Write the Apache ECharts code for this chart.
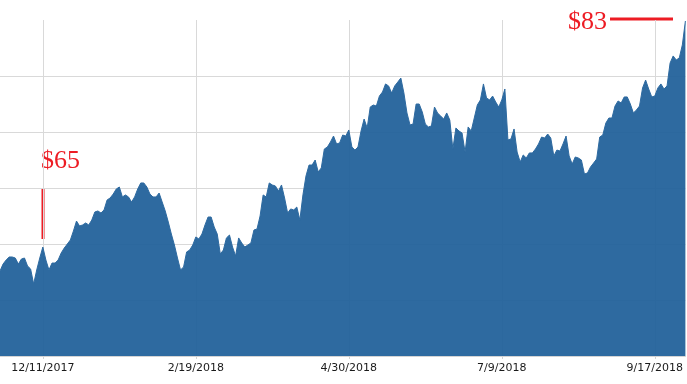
<!DOCTYPE html>
<html>
<head>
<meta charset="utf-8">
<script src="https://cdn.jsdelivr.net/npm/echarts@6/dist/echarts.min.js"></script>
<style>
html,body{margin:0;padding:0;background:#fff;}
#chart{width:687px;height:384px;}
</style>
</head>
<body>
<div id="chart"></div>
<script>
// Trading days from 11/21/2017 to 10/1/2018 (weekdays)
const startDate = [2017, 10, 21];
const dayCount = 225;
const tickDates = ['12/11/2017', '2/19/2018', '4/30/2018', '7/9/2018', '9/17/2018'];

// Closing prices
const prices = [
  62.59, 63.21, 63.57, 63.84, 63.84, 63.75, 63.21, 63.66, 63.75, 63.04,
  62.77, 61.43, 62.68, 63.75, 64.73, 63.57, 62.68, 63.30, 63.30, 63.57,
  64.20, 64.64, 65.00, 65.36, 66.16, 67.05, 66.61, 66.70, 66.88, 66.70,
  67.14, 67.86, 67.95, 67.77, 68.04, 68.93, 69.11, 69.46, 69.91, 70.09,
  69.20, 69.38, 69.20, 68.75, 69.20, 69.91, 70.45, 70.45, 70.09, 69.46,
  69.20, 69.20, 69.55, 68.75, 67.95, 66.96, 65.89, 64.91, 63.75, 62.68,
  62.95, 64.29, 64.46, 64.91, 65.63, 65.45, 65.89, 66.70, 67.41, 67.41,
  66.52, 65.89, 64.11, 64.46, 65.54, 65.80, 64.73, 63.93, 65.54, 65.09,
  64.73, 64.91, 65.09, 66.25, 66.34, 67.50, 69.38, 69.20, 70.45, 70.27,
  70.18, 69.73, 70.27, 69.11, 67.77, 68.13, 68.04, 68.30, 67.14, 69.38,
  71.07, 72.05, 72.05, 72.50, 71.43, 71.79, 73.48, 73.66, 74.11, 74.64,
  73.93, 74.02, 74.73, 74.64, 75.18, 73.66, 73.39, 73.66, 75.09, 76.16,
  75.36, 77.23, 77.41, 77.32, 78.21, 78.57, 79.29, 79.11, 78.48, 79.11,
  79.46, 79.82, 78.48, 76.70, 75.63, 75.71, 77.50, 77.50, 76.79, 75.71,
  75.45, 75.54, 77.23, 76.70, 76.43, 76.16, 76.70, 76.07, 73.48, 75.36,
  75.09, 74.91, 73.21, 75.45, 75.09, 76.25, 77.41, 77.86, 79.29, 78.04,
  77.86, 78.21, 77.68, 77.23, 77.86, 78.84, 74.29, 74.38, 75.27, 73.21,
  72.32, 72.95, 72.68, 73.13, 73.13, 73.48, 73.93, 74.55, 74.46, 74.82,
  74.46, 72.86, 73.39, 73.30, 73.93, 74.64, 72.86, 72.14, 72.77, 72.68,
  72.50, 71.25, 71.34, 71.88, 72.23, 72.59, 74.55, 74.73, 75.80, 76.25,
  76.25, 77.32, 77.77, 77.59, 78.13, 78.13, 77.50, 76.70, 76.96, 77.32,
  78.93, 79.64, 78.84, 78.13, 78.21, 78.93, 79.29, 78.84, 79.11, 81.16,
  81.79, 81.43, 81.61, 82.77, 84.91
];

const annotations = ['$65', '$83'];

// build weekday category labels
const dates = [];
{
  const d = new Date(startDate[0], startDate[1], startDate[2]);
  while (dates.length < dayCount) {
    const wd = d.getDay();
    if (wd !== 0 && wd !== 6) {
      dates.push((d.getMonth() + 1) + '/' + d.getDate() + '/' + d.getFullYear());
    }
    d.setDate(d.getDate() + 1);
  }
}
const tickSet = new Set(tickDates);
const showTick = (idx) => tickSet.has(dates[idx]);

const chart = echarts.init(document.getElementById('chart'), null, {renderer: 'canvas'});
chart.setOption({
  animation: false,
  backgroundColor: '#ffffff',
  grid: {left: 0, right: 1.6, top: 20, bottom: 28, containLabel: false},
  xAxis: {
    type: 'category',
    data: dates,
    boundaryGap: false,
    axisLine: {show: true, lineStyle: {color: '#d4d4d4', width: 1}},
    axisTick: {show: true, interval: showTick, length: 3, lineStyle: {color: '#d4d4d4'}},
    axisLabel: {
      interval: showTick,
      color: '#1a1a1a',
      fontFamily: 'DejaVu Sans',
      fontSize: 11,
      margin: 7
    },
    splitLine: {show: true, interval: showTick, lineStyle: {color: '#d9d9d9', width: 1}}
  },
  yAxis: {
    type: 'value',
    min: 55,
    max: 85,
    interval: 5,
    axisLabel: {show: false},
    axisLine: {show: false},
    axisTick: {show: false},
    splitLine: {
      show: true,
      lineStyle: {color: ['#d9d9d9', '#d9d9d9', '#d9d9d9', '#d9d9d9', '#d9d9d9', '#d9d9d9', 'rgba(0,0,0,0)'], width: 1}
    }
  },
  series: [{
    type: 'line',
    data: prices,
    showSymbol: false,
    smooth: false,
    lineStyle: {color: '#2e6aa0', width: 1},
    itemStyle: {color: '#2e6aa0'},
    areaStyle: {color: 'rgb(30,95,153)', opacity: 0.93}
  }],
  graphic: [
    {type: 'text', left: 41, top: 148, style: {text: annotations[0], fill: '#ed1c24', font: '26px "Liberation Serif", serif'}},
    {type: 'rect', shape: {x: 41.5, y: 188, width: 3, height: 51}, style: {fill: '#ed1c24'}},
    {type: 'text', left: 568, top: 9, style: {text: annotations[1], fill: '#ed1c24', font: '26px "Liberation Serif", serif'}},
    {type: 'rect', shape: {x: 610, y: 17.5, width: 63, height: 3}, style: {fill: '#ed1c24'}}
  ]
});
</script>
</body>
</html>
